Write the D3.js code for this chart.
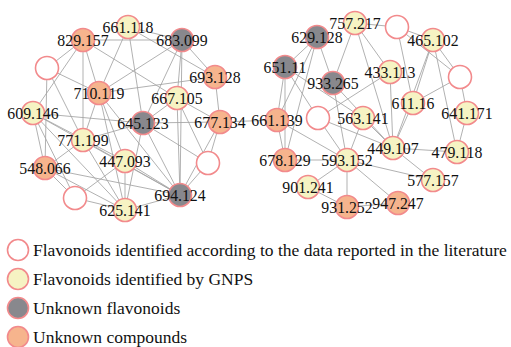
<!DOCTYPE html>
<html>
<head>
<meta charset="utf-8">
<script src="https://cdn.jsdelivr.net/npm/d3@7"></script>
<style>
  body { margin: 0; background: #fff; }
  svg text { font-family: "Liberation Serif", "Times New Roman", serif; fill: #111; }
</style>
</head>
<body>
<div id="chart"></div>
<script>
// node types: 0 literature, 1 GNPS, 2 unknown flavonoid, 3 unknown compound
const nodeLabels = [
  "661.118", "829.157", "683.099", "", "693.128", "710.119", "667.105", "609.146", "677.134",
  "645.123", "771.199", "548.066", "447.093", "", "", "694.124", "625.141",
  "757.217", "", "629.128", "465.102", "651.11", "", "433.113", "933.265", "611.16",
  "661.139", "", "563.141", "641.171", "449.107", "479.118", "678.129", "593.152",
  "577.157", "901.241", "931.252", "947.247"
];
const nodeTypes = [
  1, 3, 2, 0, 3, 3, 1, 1, 3, 2, 1, 3, 1, 0, 0, 2, 1,
  1, 0, 2, 1, 2, 0, 1, 2, 1, 3, 0, 1, 1, 1, 1, 3, 1, 1, 1, 3, 3
];
// layout coordinates of the molecular network (layout units)
const layoutX = [
  128, 83, 182, 47, 215, 99, 177, 33, 220, 143, 83, 45, 125, 208, 75, 180, 125,
  355, 397, 317, 433, 285, 460, 390, 333, 413, 277, 318, 363, 467, 393, 457, 285, 347,
  433, 308, 347, 398
];
const layoutY = [
  27, 40, 40, 68, 77, 93, 98, 113, 122, 123, 140, 168, 161, 163, 198, 195, 210,
  23, 27, 37, 40, 67, 77, 72, 83, 103, 120, 118, 118, 113, 148, 152, 160, 160,
  180, 187, 207, 203
];
const edges = [
  // left cluster
  [0, 2], [1, 2], [0, 5], [0, 9], [0, 4], [1, 3], [1, 5], [1, 6], [1, 7], [1, 10],
  [2, 5], [2, 4], [2, 6], [2, 9], [2, 15], [3, 5], [3, 10], [3, 11], [4, 5], [4, 8],
  [5, 10], [5, 12], [5, 16], [5, 15], [6, 9], [6, 8], [6, 15], [6, 13], [7, 9], [7, 11],
  [7, 14], [7, 15], [7, 12], [7, 16], [8, 9], [8, 13], [8, 15], [9, 10], [9, 15], [9, 16],
  [9, 13], [10, 11], [10, 16], [10, 15], [11, 15], [11, 14], [11, 16], [12, 14], [12, 15],
  [12, 16], [13, 15], [14, 16], [15, 16],
  // bridge
  [8, 26],
  // right cluster
  [17, 18], [17, 24], [17, 23], [17, 30], [18, 20], [18, 22], [18, 25], [19, 21], [19, 24],
  [19, 26], [19, 32], [21, 26], [21, 32], [21, 27], [21, 28], [20, 25], [20, 30], [20, 22],
  [20, 31], [22, 25], [22, 29], [29, 31], [23, 27], [23, 30], [24, 33], [24, 30], [25, 30],
  [26, 32], [26, 33], [27, 33], [27, 30], [28, 33], [28, 30], [30, 31], [30, 34], [32, 33],
  [33, 34], [33, 35], [33, 36], [33, 37], [35, 36], [36, 37]
];
const legendLabels = [
  "Flavonoids identified according to the data reported in the literature",
  "Flavonoids identified by GNPS",
  "Unknown flavonoids",
  "Unknown compounds"
];

const width = 511, height = 347;
const fills = ["#ffffff", "#f6f3c3", "#88888d", "#f6b48d"];
const strokeCol = "#f28a8c";
const r = 11.5;

const svg = d3.select("#chart").append("svg")
  .attr("width", width).attr("height", height);

const x = d3.scaleLinear().domain([0, 511]).range([0, width]);
const y = d3.scaleLinear().domain([0, 347]).range([0, height]);

const nodes = nodeLabels.map((label, i) => ({
  label, type: nodeTypes[i], x: layoutX[i], y: layoutY[i]
}));

svg.append("g")
  .selectAll("line")
  .data(edges)
  .enter().append("line")
  .attr("x1", d => x(nodes[d[0]].x))
  .attr("y1", d => y(nodes[d[0]].y))
  .attr("x2", d => x(nodes[d[1]].x))
  .attr("y2", d => y(nodes[d[1]].y))
  .attr("stroke", "#a3a3a3")
  .attr("stroke-width", 0.85);

svg.append("g")
  .selectAll("circle")
  .data(nodes)
  .enter().append("circle")
  .attr("cx", d => x(d.x))
  .attr("cy", d => y(d.y))
  .attr("r", r)
  .attr("fill", d => fills[d.type])
  .attr("stroke", strokeCol)
  .attr("stroke-width", 1.6);

svg.append("g")
  .selectAll("text")
  .data(nodes.filter(d => d.label))
  .enter().append("text")
  .attr("x", d => x(d.x))
  .attr("y", d => y(d.y) + 5.5)
  .attr("text-anchor", "middle")
  .attr("font-size", 15.8)
  .text(d => d.label);

// legend
const ly = d3.scalePoint().domain(d3.range(legendLabels.length)).range([250, 337]);
const legend = svg.append("g")
  .selectAll("g")
  .data(legendLabels)
  .enter().append("g")
  .attr("transform", (d, i) => `translate(18,${ly(i)})`);

legend.append("circle")
  .attr("r", 10.5)
  .attr("fill", (d, i) => fills[i])
  .attr("stroke", strokeCol)
  .attr("stroke-width", 1.6);

legend.append("text")
  .attr("x", 15)
  .attr("y", 6)
  .attr("font-size", 17.5)
  .text(d => d);
</script>
</body>
</html>
